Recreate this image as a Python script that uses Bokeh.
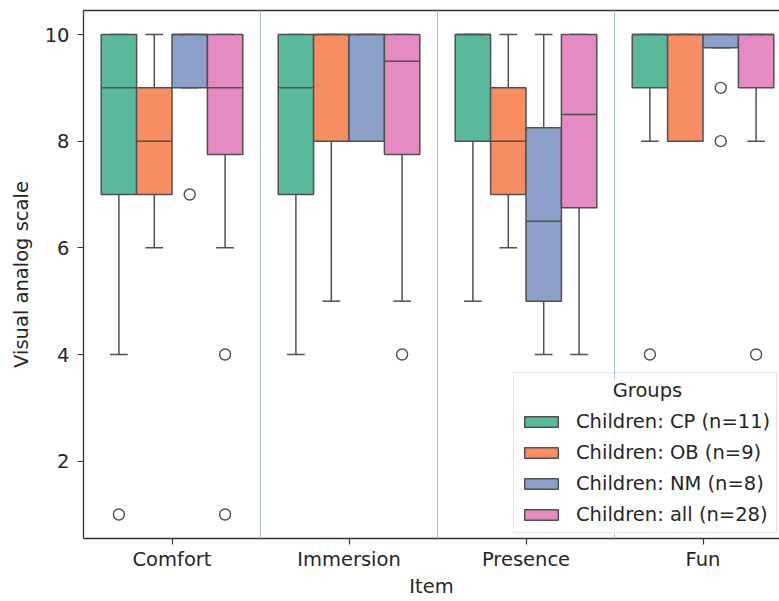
from bokeh.plotting import figure
from bokeh.models import (Range1d, FixedTicker, Span, Legend, LegendItem, LinearAxis, Label,
                          BoxAnnotation)
from bokeh.embed import file_html
from bokeh.resources import INLINE

items = ["Comfort", "Immersion", "Presence", "Fun"]
groups = ["Children: CP (n=11)", "Children: OB (n=9)", "Children: NM (n=8)", "Children: all (n=28)"]
legend_title = "Groups"
x_title = "Item"
y_title = "Visual analog scale"
colors = ["#5ab89c", "#f78d63", "#8c9fc8", "#e58bc2"]

# box statistics per group, one value per item (Comfort, Immersion, Presence, Fun)
cp_q1 = [7, 7, 8, 9]
cp_q3 = [10, 10, 10, 10]
cp_med = [9, 9, 10, 10]
cp_lo = [4, 4, 5, 8]
cp_hi = [10, 10, 10, 10]
cp_out_item = [0, 3]
cp_out_val = [1, 4]

ob_q1 = [7, 8, 7, 8]
ob_q3 = [9, 10, 9, 10]
ob_med = [8, 10, 8, 10]
ob_lo = [6, 5, 6, 8]
ob_hi = [10, 10, 10, 10]
ob_out_item = []
ob_out_val = []

nm_q1 = [9, 8, 5, 9.75]
nm_q3 = [10, 10, 8.25, 10]
nm_med = [10, 10, 6.5, 10]
nm_lo = [9, 8, 4, 9.75]
nm_hi = [10, 10, 10, 10]
nm_out_item = [0, 3, 3]
nm_out_val = [7, 9, 8]

all_q1 = [7.75, 7.75, 6.75, 9]
all_q3 = [10, 10, 10, 10]
all_med = [9, 9.5, 8.5, 10]
all_lo = [6, 5, 4, 8]
all_hi = [10, 10, 10, 10]
all_out_item = [0, 0, 1, 3]
all_out_val = [4, 1, 4, 4]

stats = [
    (cp_q1, cp_q3, cp_med, cp_lo, cp_hi, cp_out_item, cp_out_val),
    (ob_q1, ob_q3, ob_med, ob_lo, ob_hi, ob_out_item, ob_out_val),
    (nm_q1, nm_q3, nm_med, nm_lo, nm_hi, nm_out_item, nm_out_val),
    (all_q1, all_q3, all_med, all_lo, all_hi, all_out_item, all_out_val),
]

FONT = "DejaVu Sans"
LINE = "#505050"
FS = "19.5px"
TXT = "#262626"

p = figure(width=779, height=601, output_backend="svg", toolbar_location=None,
           x_range=Range1d(-0.5, -0.5 + 696 / 177), y_range=Range1d(0.55, 10.45),
           min_border_left=83, min_border_top=10, min_border_right=0, min_border_bottom=63)
p.outline_line_color = None
p.xgrid.visible = False
p.ygrid.visible = False
p.background_fill_color = "white"
p.border_fill_color = "white"

xax = p.below[0]
yax = p.left[0]

for sep in [0.5, 1.5, 2.5]:
    p.add_layout(Span(location=sep, dimension="height", line_color="#a3bdd5", line_width=1))

offsets = [-0.3, -0.1, 0.1, 0.3]
bw = 0.2
legend_items = []
for gi, (q1, q3, med, lo, hi, oi, ov) in enumerate(stats):
    xs = [i + offsets[gi] for i in range(len(items))]
    p.segment(x0=xs, y0=q1, x1=xs, y1=lo, line_color=LINE, line_width=1.5)
    p.segment(x0=xs, y0=q3, x1=xs, y1=hi, line_color=LINE, line_width=1.5)
    p.segment(x0=[x - bw / 4 for x in xs], y0=lo, x1=[x + bw / 4 for x in xs], y1=lo,
              line_color=LINE, line_width=1.5)
    p.segment(x0=[x - bw / 4 for x in xs], y0=hi, x1=[x + bw / 4 for x in xs], y1=hi,
              line_color=LINE, line_width=1.5)
    r = p.vbar(x=xs, width=bw, bottom=q1, top=q3, fill_color=colors[gi],
               line_color=LINE, line_width=1.5)
    p.segment(x0=[x - bw / 2 for x in xs], y0=med, x1=[x + bw / 2 for x in xs], y1=med,
              line_color=LINE, line_width=1.5)
    if oi:
        p.scatter(x=[i + offsets[gi] for i in oi], y=ov, marker="circle", size=11,
                  fill_color=None, line_color=LINE, line_width=1.4)
    legend_items.append(LegendItem(label=groups[gi], renderers=[r]))

# top spine
top_ax = LinearAxis(ticker=FixedTicker(ticks=[]),
                    major_tick_line_color=None, minor_tick_line_color=None,
                    axis_line_color="#333333", axis_line_width=1.3)
p.add_layout(top_ax, "above")

xax.ticker = FixedTicker(ticks=[0, 1, 2, 3])
xax.major_label_overrides = {i: items[i] for i in range(4)}
yax.ticker = FixedTicker(ticks=[2, 4, 6, 8, 10])
xax.axis_label = x_title
yax.axis_label = y_title
for ax in [xax, yax]:
    ax.axis_line_color = "#333333"
    ax.axis_line_width = 1.3
    ax.major_tick_line_color = "#333333"
    ax.major_tick_line_width = 1.2
    ax.major_tick_out = 6
    ax.major_tick_in = 0
    ax.minor_tick_line_color = None
    ax.major_label_text_font = FONT
    ax.major_label_text_font_size = FS
    ax.major_label_text_color = TXT
    ax.axis_label_text_font = FONT
    ax.axis_label_text_font_size = FS
    ax.axis_label_text_font_style = "normal"
    ax.axis_label_text_color = TXT
yax.major_label_standoff = 8
yax.axis_label_standoff = 9
xax.major_label_standoff = 3
xax.axis_label_standoff = 1

# opaque background behind the legend (legend itself transparent so the title shows)
p.add_layout(BoxAnnotation(left=430, right=700, bottom=5, top=160,
                           left_units="screen", right_units="screen",
                           bottom_units="screen", top_units="screen",
                           fill_color="white", fill_alpha=0.9, line_color=None))

legend = Legend(items=legend_items, location=(430, 5), title=" ",
                glyph_width=42, glyph_height=13, label_standoff=14, spacing=8,
                label_height=22, padding=6, margin=0,
                label_text_font=FONT, label_text_font_size=FS, label_text_color=TXT,
                title_text_font=FONT, title_text_font_size=FS, title_text_font_style="normal",
                title_text_color=TXT, title_standoff=8,
                border_line_color="#cccccc", border_line_width=1,
                background_fill_color="white", background_fill_alpha=0.0)
p.add_layout(legend, "center")

# centred legend title
p.add_layout(Label(x=564, y=148, x_units="screen", y_units="screen", text=legend_title,
                   text_align="center", text_baseline="middle", text_font=FONT,
                   text_font_size=FS, text_color=TXT, level="overlay"))

open("out.html", "w").write(file_html(p, INLINE))
